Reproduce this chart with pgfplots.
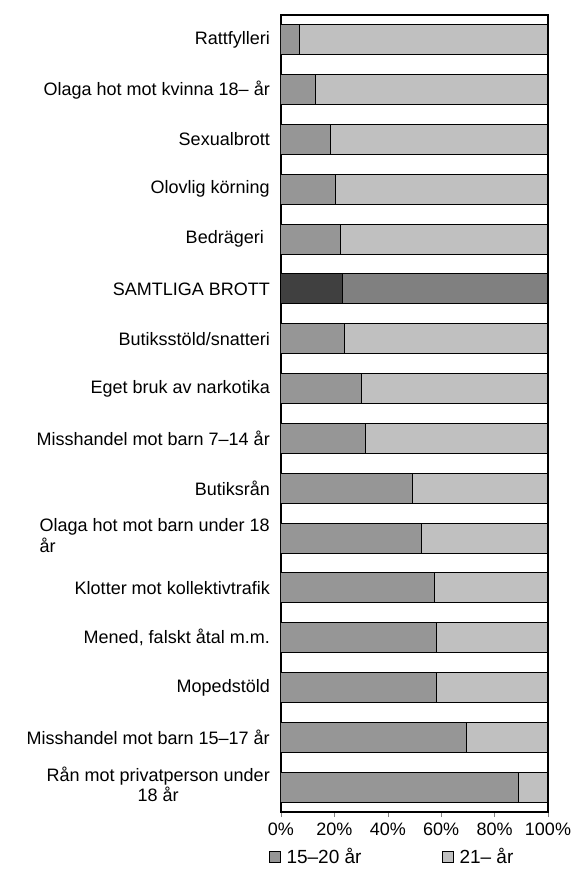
\documentclass[border=0pt]{standalone}
\usepackage{pgfplots}
\usepackage{pgfplotstable}
\pgfplotsset{compat=1.18}
\usepackage{fontspec}
\setmainfont{Liberation Sans}
\definecolor{ung}{RGB}{150,150,150}
\definecolor{aldre}{RGB}{192,192,192}
\definecolor{totung}{RGB}{64,64,64}
\definecolor{totaldre}{RGB}{128,128,128}
\pgfplotsset{sqlegend/.style={legend image code/.code={%
    \draw[##1] (0bp,-5.5bp) rectangle (11bp,5.5bp);
    \path (15bp,0bp);}}}

% andel per aldersgrupp (procent), rad 1 = nederst
\pgfplotstableread{
y  ung   aldre  totung  totaldre
1  89.0  11.0   0       0
2  69.5  30.5   0       0
3  58.4  41.6   0       0
4  58.4  41.6   0       0
5  57.4  42.6   0       0
6  52.7  47.3   0       0
7  49.4  50.6   0       0
8  31.7  68.3   0       0
9  30.2  69.8   0       0
10 23.8  76.2   0       0
11 0     0      22.9    77.1
12 22.4  77.6   0       0
13 20.4  79.6   0       0
14 18.6  81.4   0       0
15 12.8  87.2   0       0
16 7.0   93.0   0       0
}\brott

\begin{document}
\fontsize{18bp}{21bp}\selectfont
\begin{tikzpicture}
\begin{axis}[
    scale only axis,
    width=267bp,
    height=797bp,
    xbar stacked,
    bar width=30bp,
    xmin=0, xmax=100,
    ymin=0.5, ymax=16.5,
    xtick={0,20,...,100},
    xticklabel={\pgfmathprintnumber{\tick}\%},
    /pgf/number format/assume math mode=true,
    xtick pos=bottom,
    tick align=outside,
    major tick length=5bp,
    ytick={1,...,16},
    ytick style={draw=none},
    yticklabels={
        {\begin{tabular}{@{}c@{}}Rån mot privatperson under\\18 år\end{tabular}},
        Misshandel mot barn 15–17 år,
        Mopedstöld,
        {Mened, falskt åtal m.m.},
        Klotter mot kollektivtrafik,
        {\begin{tabular}{@{}l@{}}Olaga hot mot barn under 18\\år\end{tabular}},
        Butiksrån,
        Misshandel mot barn 7–14 år,
        Eget bruk av narkotika,
        Butiksstöld/snatteri,
        SAMTLIGA BROTT,
        Bedrägeri\hspace*{6bp},
        Olovlig körning,
        Sexualbrott,
        Olaga hot mot kvinna 18– år,
        Rattfylleri},
    tick label style={font=\fontsize{18bp}{20bp}\selectfont, text=black},
    yticklabel style={inner xsep=0pt, xshift=-6bp},
    axis line style={line width=1.2bp},
    legend columns=2,
    legend style={draw=none, fill=none, at={(0.4156,-0.0565)}, anchor=center,
        font=\fontsize{19bp}{21bp}\selectfont,
        /tikz/every even column/.append style={column sep=78bp}},
]
\addplot[fill=ung, draw=black, line width=1bp, sqlegend]
    table[x=ung, y=y] {\brott};
\addplot[fill=aldre, draw=black, line width=1bp, sqlegend]
    table[x=aldre, y=y] {\brott};
\addplot[fill=totung, draw=black, line width=1bp] table[x=totung, y=y] {\brott};
\addplot[fill=totaldre, draw=black, line width=1bp] table[x=totaldre, y=y] {\brott};
\legend{15–20 år, 21– år}
\coordinate (sw) at (rel axis cs:0,0);
\end{axis}
\path (sw) ++(-281bp,-74bp) rectangle ++(574bp,886bp);
\end{tikzpicture}
\end{document}
